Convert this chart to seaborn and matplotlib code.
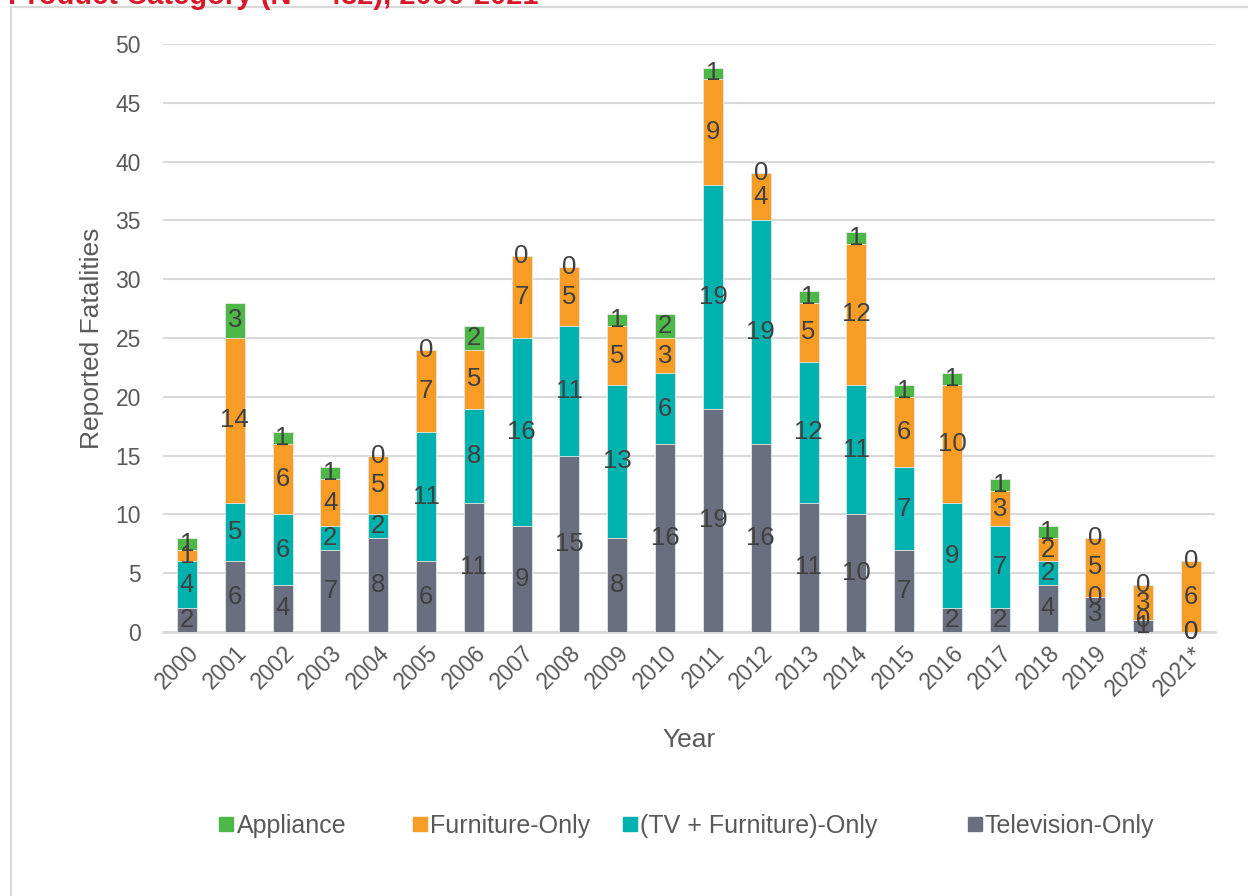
import numpy as np
import pandas as pd
import matplotlib
matplotlib.use("Agg")
import matplotlib.pyplot as plt
from matplotlib.patches import Rectangle
from matplotlib.lines import Line2D
import seaborn as sns

years = ["2000", "2001", "2002", "2003", "2004", "2005", "2006", "2007", "2008", "2009", "2010",
         "2011", "2012", "2013", "2014", "2015", "2016", "2017", "2018", "2019", "2020*", "2021*"]
television_only = [2, 6, 4, 7, 8, 6, 11, 9, 15, 8, 16, 19, 16, 11, 10, 7, 2, 2, 4, 3, 1, 0]
tv_furniture_only = [4, 5, 6, 2, 2, 11, 8, 16, 11, 13, 6, 19, 19, 12, 11, 7, 9, 7, 2, 0, 0, 0]
furniture_only = [1, 14, 6, 4, 5, 7, 5, 7, 5, 5, 3, 9, 4, 5, 12, 6, 10, 3, 2, 5, 3, 6]
appliance = [1, 3, 1, 1, 0, 0, 2, 0, 0, 1, 2, 1, 0, 1, 1, 1, 1, 1, 1, 0, 0, 0]

series_names = ["Television-Only", "(TV + Furniture)-Only", "Furniture-Only", "Appliance"]
series_vals = [television_only, tv_furniture_only, furniture_only, appliance]
colors = {"Appliance": "#4DB748", "Furniture-Only": "#F79D25",
          "(TV + Furniture)-Only": "#00B2AE", "Television-Only": "#6A6F80"}

sns.set_theme(style="white")
plt.rcParams['font.family'] = ['Liberation Sans', 'DejaVu Sans']

fig = plt.figure(figsize=(12.48, 8.96), dpi=100)
ax = fig.add_axes([163/1248, 1-632/896, (1215-163)/1248, (632-44)/896])

vals = np.array(series_vals, dtype=float)
cum = np.cumsum(vals, axis=0)

# draw cumulative totals from top series down
for i in range(len(series_names) - 1, -1, -1):
    df = pd.DataFrame({"Year": years, "Value": cum[i]})
    sns.barplot(data=df, x="Year", y="Value", color=colors[series_names[i]],
                width=0.42, ax=ax, edgecolor="#E8E8E8", linewidth=0.6,
                saturation=1, zorder=3, errorbar=None)

# data labels
for i in range(len(series_names)):
    bottoms = cum[i] - vals[i]
    for j, v in enumerate(vals[i]):
        ax.text(j, bottoms[j] + v / 2, f"{int(v)}", ha="center", va="center",
                fontsize=18.5, color="#404040", zorder=5)

ax.set_ylim(0, 50)
ax.set_xlim(-0.5, len(years) - 0.5)
ax.set_yticks(range(0, 51, 5))
ax.yaxis.grid(True, color="#D9D9D9", linewidth=1.5, zorder=0)
ax.set_axisbelow(True)
for s in ["top", "right", "left"]:
    ax.spines[s].set_visible(False)
ax.spines["bottom"].set_color("#D9D9D9")
ax.spines["bottom"].set_linewidth(2)
ax.tick_params(axis="both", length=0, labelsize=16.5, colors="#595959")
ax.tick_params(axis="y", pad=16)
ax.tick_params(axis="x", pad=7)
plt.setp(ax.get_xticklabels(), rotation=45, ha="right", rotation_mode="anchor")
ax.set_xlabel("Year", fontsize=19, color="#595959", labelpad=20)
ax.set_ylabel("Reported Fatalities", fontsize=19, color="#595959", labelpad=8)

# chart border
fig.patches.append(Rectangle((11/1248, -0.05), 1.2, 1 - 7/896 + 0.05, transform=fig.transFigure,
                             fill=False, edgecolor="#D9D9D9", linewidth=1.6, zorder=0))

# clipped title
fig.text(8/1248, 1 - 4/896, "Product Category (N = 482), 2000-2021", fontsize=21,
         fontweight="bold", color="#D7192A", ha="left", va="baseline")

legend_order = ["Appliance", "Furniture-Only", "(TV + Furniture)-Only", "Television-Only"]
legend_x = [219, 412, 622, 967]
for name, lx in zip(legend_order, legend_x):
    h = Line2D([0], [0], marker="s", linestyle="none", markersize=10.5,
               markerfacecolor=colors[name], markeredgecolor=colors[name])
    fig.legend([h], [name], loc="center left", bbox_to_anchor=(lx/1248, 1 - 826/896),
               frameon=False, fontsize=18, handletextpad=0.1, borderpad=0,
               borderaxespad=0, labelcolor="#595959", handlelength=0.6)

fig.savefig("out.png", dpi=100, facecolor="white")
